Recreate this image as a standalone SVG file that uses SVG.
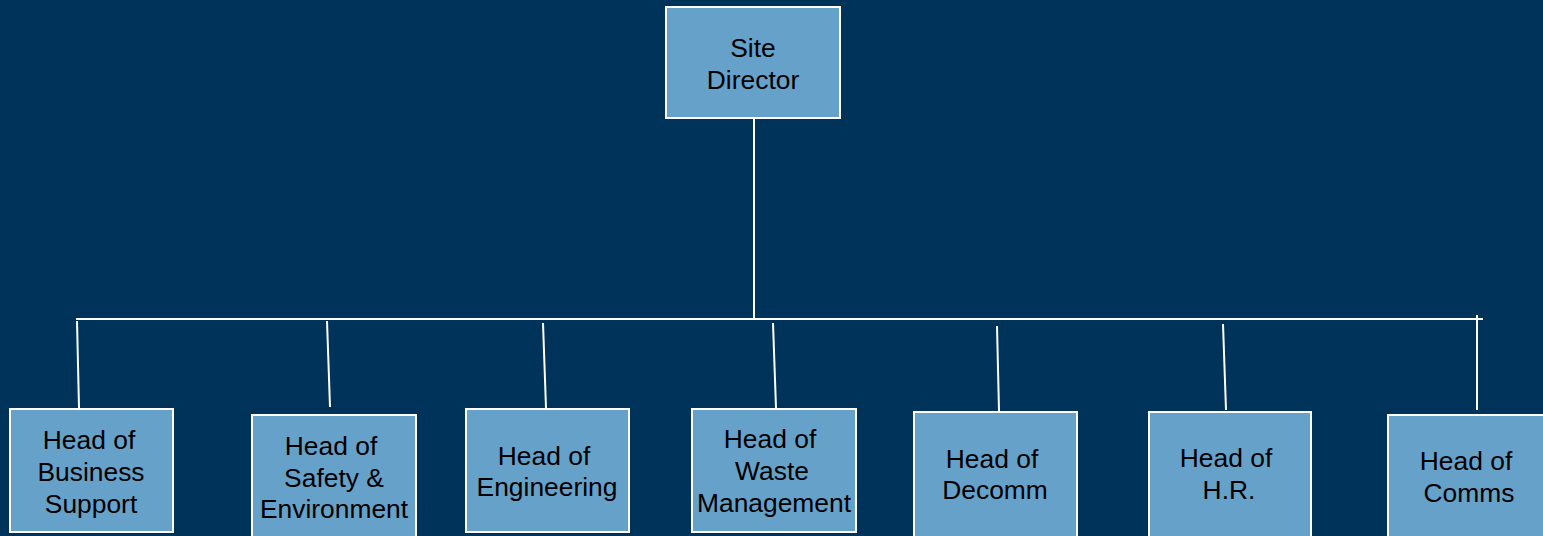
<svg xmlns="http://www.w3.org/2000/svg" width="1543" height="536" viewBox="0 0 1543 536">
<style>
.box{fill:#66A1CA;stroke:#FFFFFF;stroke-width:2}
.lbl{font-family:"Liberation Sans",Arial,sans-serif;font-size:26.4px;fill:#000000;text-anchor:middle}
.ln{stroke:#FFFFFF;stroke-width:2;fill:none}
</style>
<rect x="0" y="0" width="1543" height="536" fill="#003359"/>
<g id="connectors">
<line class="ln" x1="754" y1="119" x2="754" y2="319"/>
<line class="ln" x1="76" y1="319" x2="1483" y2="319"/>
<line class="ln" x1="77" y1="321" x2="79" y2="408"/>
<line class="ln" x1="327" y1="321" x2="330" y2="407"/>
<line class="ln" x1="543" y1="323" x2="546" y2="408"/>
<line class="ln" x1="773" y1="323" x2="776" y2="408"/>
<line class="ln" x1="997" y1="326" x2="999" y2="411"/>
<line class="ln" x1="1223" y1="324" x2="1226" y2="410"/>
<line class="ln" x1="1477" y1="315" x2="1477" y2="410"/>
</g>
<g id="site-director">
<rect class="box" x="666" y="7" width="174" height="111"/>
<text class="lbl" x="753" y="57">Site</text>
<text class="lbl" x="753" y="89">Director</text>
</g>
<g id="business-support">
<rect class="box" x="10" y="409" width="163" height="123"/>
<text class="lbl" x="89" y="449">Head of</text>
<text class="lbl" x="91" y="481">Business</text>
<text class="lbl" x="91" y="513">Support</text>
</g>
<g id="safety-environment">
<rect class="box" x="252" y="415" width="164" height="130"/>
<text class="lbl" x="331" y="455">Head of</text>
<text class="lbl" x="334" y="487">Safety &amp;</text>
<text class="lbl" x="334" y="518">Environment</text>
</g>
<g id="engineering">
<rect class="box" x="466" y="409" width="163" height="123"/>
<text class="lbl" x="544" y="465">Head of</text>
<text class="lbl" x="547" y="496">Engineering</text>
</g>
<g id="waste-management">
<rect class="box" x="692" y="409" width="164" height="123"/>
<text class="lbl" x="770" y="448">Head of</text>
<text class="lbl" x="772" y="480">Waste</text>
<text class="lbl" x="774" y="512">Management</text>
</g>
<g id="decomm">
<rect class="box" x="914" y="412" width="163" height="130"/>
<text class="lbl" x="992" y="468">Head of</text>
<text class="lbl" x="995" y="499">Decomm</text>
</g>
<g id="hr">
<rect class="box" x="1149" y="412" width="162" height="130"/>
<text class="lbl" x="1226" y="467">Head of</text>
<text class="lbl" x="1229" y="499">H.R.</text>
</g>
<g id="comms">
<rect class="box" x="1388" y="415" width="170" height="130"/>
<text class="lbl" x="1466" y="470">Head of</text>
<text class="lbl" x="1469" y="502">Comms</text>
</g>
</svg>
